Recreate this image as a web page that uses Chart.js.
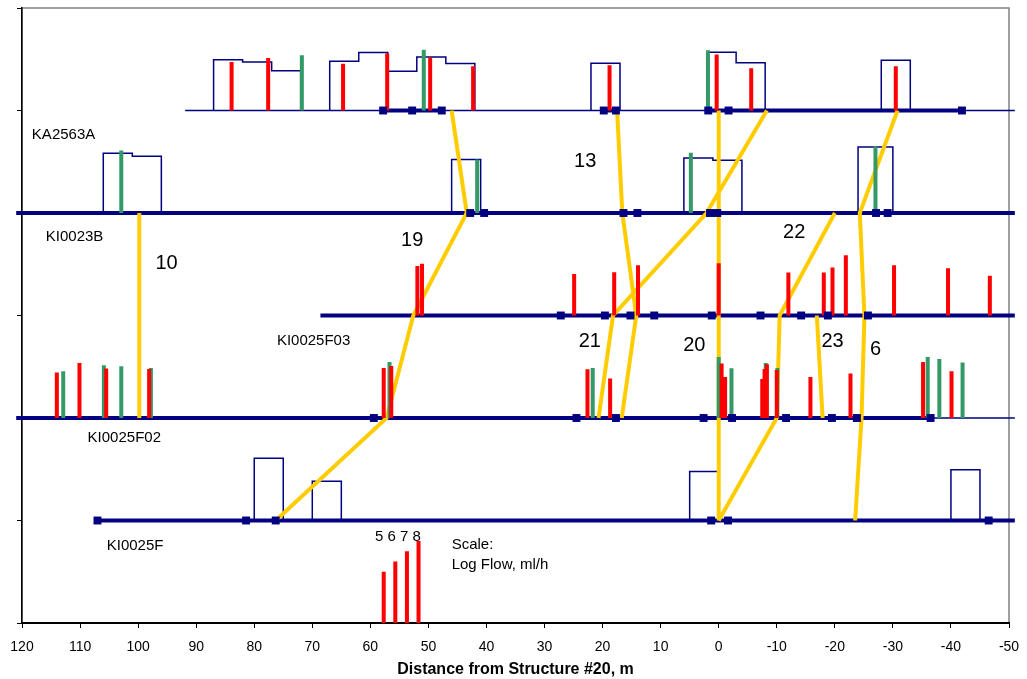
<!DOCTYPE html>
<html>
<head>
<meta charset="utf-8">
<script src="https://cdn.jsdelivr.net/npm/chart.js@4.4.1/dist/chart.umd.min.js"></script>
<style>
body{margin:0;background:#fff;}
#wrap{width:1027px;height:679px;}
</style>
</head>
<body>
<div id="wrap"><canvas id="grafik" width="1027" height="679"></canvas></div>
<script>
// level of each borehole on the y axis
const lvKA = 5, lvB = 4, lvF03 = 3, lvF02 = 2, lvF = 1;

// thin hole line [from, to], m
const thinKA = [[91.9, -51]];
const thinF02 = [[-36.5, -51]];
// thick (measured) sections
const thickKA = [[57.8, 47.7], [19.8, 17.7], [1.8, -41.9]];
const thickB = [[121, -51]];
const thickF03 = [[68.6, -51]];
const thickF02 = [[121, -36.5]];
const thickF = [[107, -51]];

// square markers
const markKA = [57.8, 52.8, 47.7, 19.8, 17.7, 1.8, -1.7, -41.9];
const markB = [42.8, 40.4, 16.4, 14.0, 1.5, 0.25, -27.1, -29.1];
const markF03 = [27.2, 19.6, 15.2, 11.1, 1.2, -7.2, -14.2, -18.8, -25.7];
const markF02 = [59.4, 24.5, 17.7, 2.6, -2.3, -11.6, -19.5, -23.8, -36.5];
const markF = [107.0, 81.4, 76.3, 1.3, -1.6, -46.5];

// 5 m section boxes: edges and log flow per section
const boxEdgeKA = [[87, 82, 77, 72], [67, 62, 57, 52, 47, 42], [22, 17], [2, -3, -8], [-28, -33]];
const boxFlowKA = [[4.94, 4.74, 3.87], [4.81, 5.66, 3.84, 5.23, 4.59], [4.62], [5.69, 4.65], [4.91]];
const boxEdgeB = [[106, 101, 96], [46, 41], [6, 1, -4], [-24, -30]];
const boxFlowB = [[5.83, 5.53], [5.21], [5.37, 5.14], [6.44]];
const boxEdgeF = [[80, 75], [70, 65], [5, 0], [-40, -45]];
const boxFlowF = [[6.08], [3.84], [4.78], [4.95]];

// flow anomalies (red) and green ones: position, log flow
const redKA = [83.9, 77.6, 64.7, 57.1, 49.7, 42.3, 18.8, 0.35, -5.6, -30.5];
const redKAq = [4.74, 5.13, 4.55, 5.56, 5.17, 4.32, 4.42, 5.47, 4.13, 4.32];
const greenKA = [71.8, 50.8, 1.85];
const greenKAq = [5.40, 5.92, 5.89];
const greenB = [102.9, 41.6, 4.8, -27.0];
const greenBq = [6.10, 5.21, 5.87, 6.51];
const redF03 = [51.9, 51.1, 24.9, 18.0, 13.9, 0, -12.0, -18.1, -19.6, -21.9, -30.2, -39.5, -46.7];
const redF03q = [4.84, 5.04, 4.06, 4.23, 4.91, 5.10, 4.20, 4.20, 4.69, 5.89, 4.91, 4.62, 3.87];
const redF02 = [114.0, 110.1, 105.5, 98.1, 57.7, 56.4, 22.6, 18.7, -0.5, -1.1, -7.5, -7.9, -8.3, -10.0, -15.8, -22.7, -35.2, -40.1];
const redF02q = [4.43, 5.37, 4.82, 4.78, 4.88, 5.08, 4.75, 3.85, 5.31, 4.00, 3.81, 4.78, 5.24, 4.69, 4.00, 4.33, 5.47, 4.56];
const greenF02 = [112.9, 105.9, 102.9, 97.8, 56.7, 21.7, 0.0, -2.2, -8.1, -10.1, -36.0, -38.0, -42.0];
const greenF02q = [4.56, 5.14, 5.05, 4.88, 5.47, 4.88, 5.95, 4.85, 5.37, 4.88, 5.95, 5.76, 5.41];

// scale bars
const scaleX = [57.7, 55.7, 53.7, 51.7];
const scaleQ = [5, 6, 7, 8];

// structures (yellow): x at each hole level
const trace10 = [99.8, 99.8], trace10lv = [4, 2];
const trace19 = [46.0, 43.4, 52.6, 57.2, 76.3], trace19lv = [5, 4, 3, 2, 1];
const trace13 = [17.5, 16.6, 14.2, 16.7], trace13lv = [5, 4, 3, 2];
const trace21 = [-8.3, 2.1, 18.2, 20.7], trace21lv = [5, 4, 3, 2];
const trace20 = [0, 0], trace20lv = [5, 1];
const trace22 = [0, -10.0, -10.5, -20.0], trace22lv = [1, 2, 3, 4];
const trace23 = [-16.9, -17.9], trace23lv = [3, 2];
const trace6 = [-30.8, -24.3, -25.1, -24.6, -23.5], trace6lv = [5, 4, 3, 2, 1];

// text
const holeNames = ['KA2563A', 'KI0023B', 'KI0025F03', 'KI0025F02', 'KI0025F', '5 6 7 8', 'Scale:', 'Log Flow, ml/h'];
const holeNameX = [118.3, 115.9, 76.1, 108.7, 105.4, 59.2, 46.0, 46.0];
const holeNameY = [4.76, 3.77, 2.75, 1.81, 0.75, 0.84, 0.76, 0.57];
const structNames = ['13', '19', '10', '22', '21', '20', '23', '6'];
const structX = [23.0, 52.8, 95.1, -13.0, 22.2, 4.2, -19.6, -27.0];
const structY = [4.50, 3.73, 3.51, 3.81, 2.75, 2.71, 2.75, 2.67];

const xTicks = [120, 110, 100, 90, 80, 70, 60, 50, 40, 30, 20, 10, 0, -10, -20, -30, -40, -50];

const navy = '#000080', red = '#ff0000', green = '#339966', yellow = '#ffcc00';
const FONT = '"Liberation Sans", Arial, sans-serif';

function segs(list, lv){
  const p = [];
  list.forEach(s => p.push({x:s[0], y:lv}, {x:s[1], y:lv}, {x:s[1], y:null}));
  return p;
}
function sticks(xs, qs, lv){
  const p = [];
  xs.forEach((x, i) => p.push({x:x, y:lv}, {x:x, y:lv + qs[i] / 10}, {x:x, y:null}));
  return p;
}
function boxes(edges, flows, lv){
  const p = [];
  edges.forEach((e, k) => {
    p.push({x:e[0], y:lv});
    flows[k].forEach((q, i) => p.push({x:e[i], y:lv + q / 10}, {x:e[i + 1], y:lv + q / 10}));
    p.push({x:e[e.length - 1], y:lv}, {x:e[e.length - 1], y:null});
  });
  return p;
}
function trace(xs, lvs){
  return xs.map((x, i) => ({x:x, y:lvs[i]}));
}
function line(data, color, width, order){
  return {data:data, showLine:true, borderColor:color, borderWidth:width, pointRadius:0,
    spanGaps:false, clip:false, order:order, borderCapStyle:'butt', borderJoinStyle:'miter'};
}
function marks(xs, lv){
  return {data:xs.map(x => ({x:x, y:lv})), showLine:false, pointStyle:'rect', pointRadius:5.6,
    backgroundColor:navy, borderColor:navy, borderWidth:0, clip:false, order:0};
}

const datasets = [
  line(boxes(boxEdgeKA, boxFlowKA, lvKA), navy, 1.5, 9),
  line(boxes(boxEdgeB, boxFlowB, lvB), navy, 1.5, 9),
  line(boxes(boxEdgeF, boxFlowF, lvF), navy, 1.5, 9),
  line(segs(thinKA, lvKA), navy, 1.5, 8),
  line(segs(thinF02, lvF02), navy, 1.5, 8),
  line(segs(thickKA, lvKA), navy, 4, 7),
  line(segs(thickB, lvB), navy, 4, 7),
  line(segs(thickF03, lvF03), navy, 4, 7),
  line(segs(thickF02, lvF02), navy, 4, 7),
  line(segs(thickF, lvF), navy, 4, 7),
  line(trace(trace10, trace10lv), yellow, 4, 6),
  line(trace(trace19, trace19lv), yellow, 4, 6),
  line(trace(trace13, trace13lv), yellow, 4, 6),
  line(trace(trace21, trace21lv), yellow, 4, 6),
  line(trace(trace20, trace20lv), yellow, 4, 6),
  line(trace(trace22, trace22lv), yellow, 4, 6),
  line(trace(trace23, trace23lv), yellow, 4, 6),
  line(trace(trace6, trace6lv), yellow, 4, 6),
  line(sticks(greenKA, greenKAq, lvKA), green, 4, 4),
  line(sticks(greenB, greenBq, lvB), green, 4, 4),
  line(sticks(greenF02, greenF02q, lvF02), green, 4, 4),
  line(sticks(redKA, redKAq, lvKA), red, 4, 3),
  line(sticks(redF03, redF03q, lvF03), red, 4, 3),
  line(sticks(redF02, redF02q, lvF02), red, 4, 3),
  line(sticks(scaleX, scaleQ, 0), red, 4, 3),
  marks(markKA, lvKA), marks(markB, lvB), marks(markF03, lvF03), marks(markF02, lvF02), marks(markF, lvF)
];

const frame = {
  id:'frame',
  beforeDraw(c){
    const a = c.chartArea, ctx = c.ctx;
    ctx.save();
    ctx.strokeStyle = '#808080';
    ctx.lineWidth = 1.5;
    ctx.strokeRect(a.left, a.top, a.right - a.left, a.bottom - a.top);
    ctx.restore();
  }
};

const notes = {
  id:'notes',
  afterDatasetsDraw(c){
    const ctx = c.ctx, sx = c.scales.x, sy = c.scales.y;
    ctx.save();
    ctx.fillStyle = '#000';
    ctx.textBaseline = 'middle';
    ctx.textAlign = 'left';
    ctx.font = '15px ' + FONT;
    holeNames.forEach((t, i) => ctx.fillText(t, sx.getPixelForValue(holeNameX[i]), sy.getPixelForValue(holeNameY[i])));
    ctx.textAlign = 'center';
    ctx.font = '20px ' + FONT;
    structNames.forEach((t, i) => ctx.fillText(t, sx.getPixelForValue(structX[i]), sy.getPixelForValue(structY[i])));
    ctx.restore();
  }
};

new Chart(document.getElementById('grafik'), {
  type:'scatter',
  data:{datasets:datasets},
  options:{
    responsive:false,
    devicePixelRatio:1,
    animation:false,
    layout:{padding:{top:8, right:18, left:0, bottom:0}},
    plugins:{legend:{display:false}, tooltip:{enabled:false}},
    scales:{
      x:{
        type:'linear', reverse:true, min:-50, max:120,
        afterFit(s){ s.height = 56; s.paddingLeft = 0; s.paddingRight = 0; },
        afterBuildTicks(s){ s.ticks = xTicks.map(v => ({value:v})); },
        border:{color:'#000', width:2},
        grid:{drawOnChartArea:false, color:'#000', tickLength:5, tickWidth:1},
        ticks:{color:'#000', font:{family:FONT, size:14}, padding:11, maxRotation:0, autoSkip:false},
        title:{display:true, text:'Distance from Structure #20, m', color:'#000',
          font:{family:FONT, size:16, weight:'bold'}, padding:{top:0, bottom:0}}
      },
      y:{
        type:'linear', min:0, max:6,
        afterFit(s){ s.width = 22; s.paddingTop = 0; s.paddingBottom = 0; },
        border:{color:'#000', width:1.5},
        grid:{drawOnChartArea:false, color:'#000', tickLength:5},
        ticks:{display:false, stepSize:1}
      }
    }
  },
  plugins:[frame, notes]
});
</script>
</body>
</html>
